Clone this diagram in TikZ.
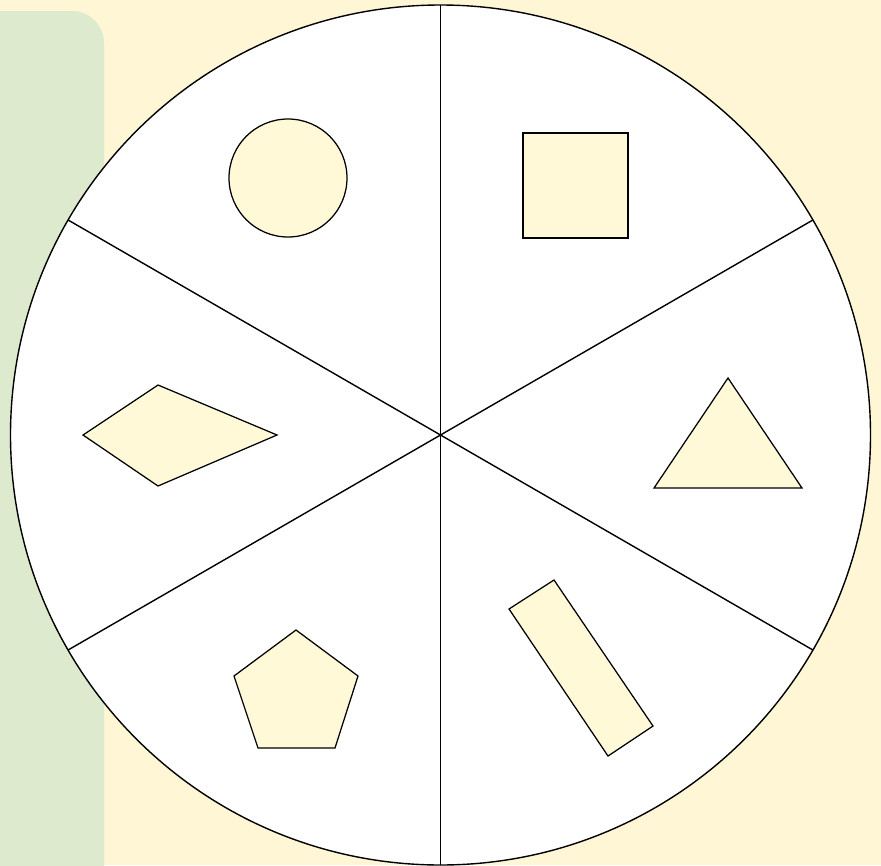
\documentclass[tikz,border=0pt]{standalone}
\definecolor{bgyellow}{HTML}{FFF6D5}
\definecolor{panelgreen}{HTML}{DEEACD}
\definecolor{shapefill}{HTML}{FFF9D8}
\begin{document}
\begin{tikzpicture}[x=1pt,y=-1pt,
  outline/.style={draw=black,line width=1.4pt},
  shapebox/.style={draw=black,line width=1.25pt,fill=shapefill,line join=miter}]
\useasboundingbox (0,0) rectangle (881,865);
\fill[bgyellow] (0,0) rectangle (881,865);
\fill[panelgreen,rounded corners=32pt] (-40,11) rectangle (104,905);
% wheel
\coordinate (c) at (440.5,435);
\fill[white] (c) circle[radius=430];
\foreach \a in {30,90,150,210,270,330}
  \draw[outline] (c) -- ++(\a:430) coordinate (s\a);
\draw[outline] (c) circle[radius=430];
% shapes
\draw[shapebox] (288,178) circle[radius=59];
\draw[shapebox] (523,133) rectangle (628,238);
\draw[shapebox] (728,378) -- (802,488) -- (654,488) -- cycle;
\draw[shapebox] (83,435) -- (158,385) -- (277,435) -- (158,486) -- cycle;
\draw[shapebox] (296,630) -- (358,676) -- (335,748) -- (258,748) -- (234,676) -- cycle;
\draw[shapebox] (509,609) -- (554,580) -- (653,726) -- (608,756) -- cycle;
\end{tikzpicture}
\end{document}
